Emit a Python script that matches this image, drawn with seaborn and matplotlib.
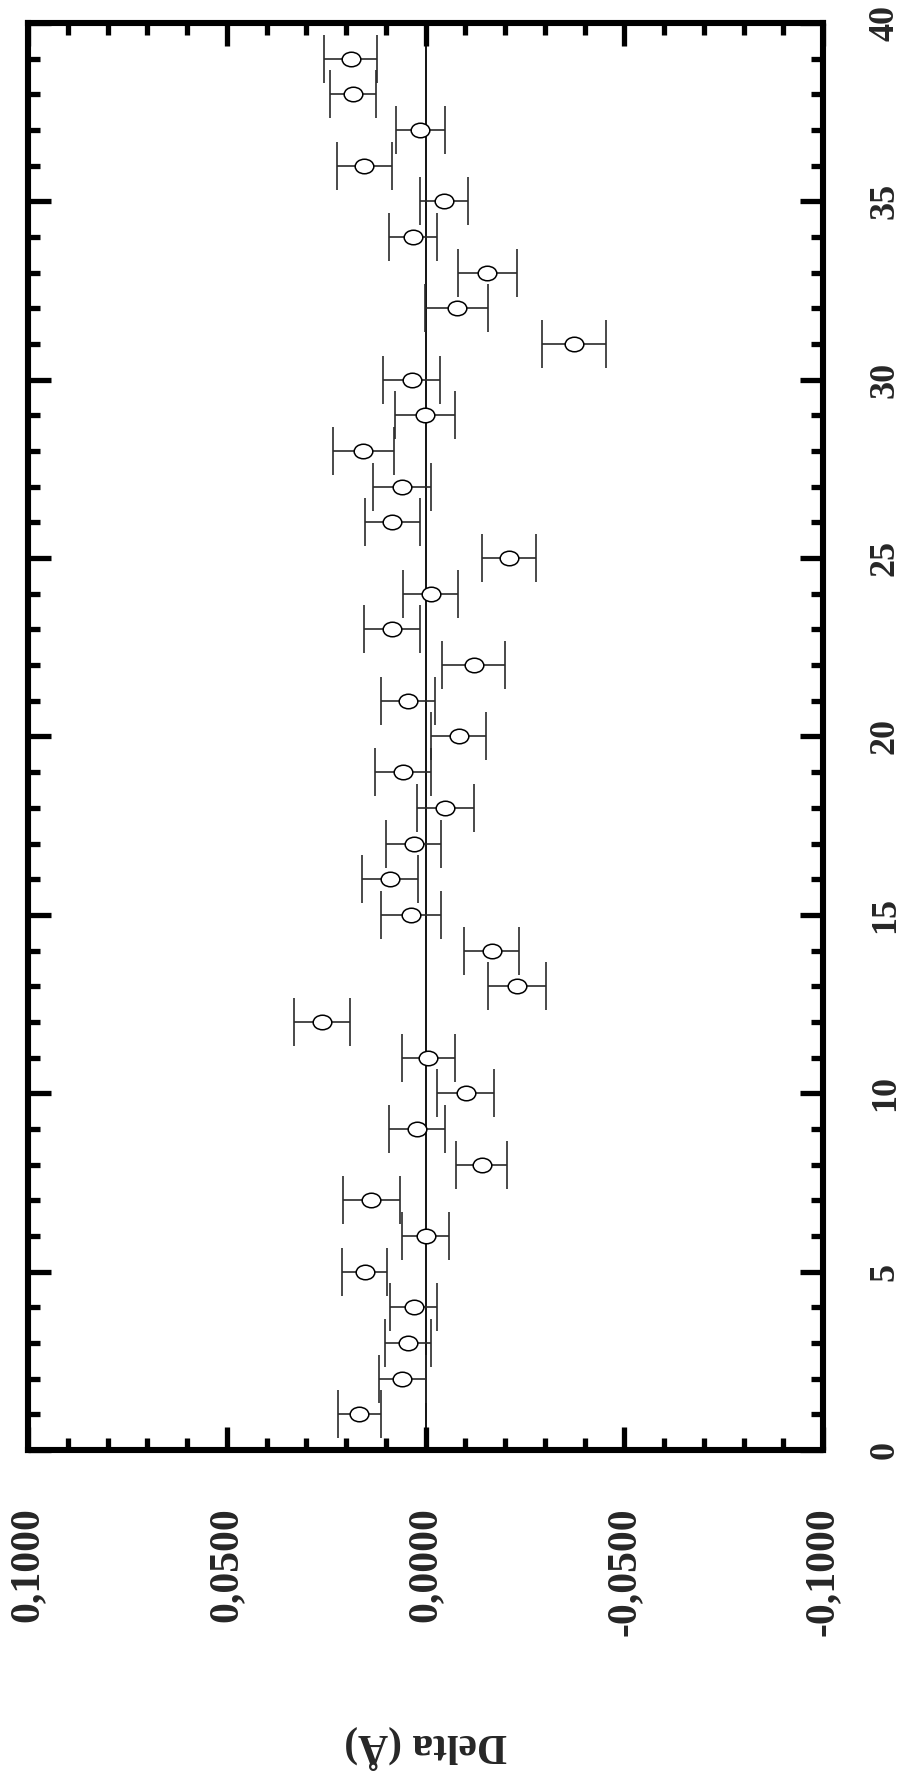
import numpy as np
import pandas as pd
import matplotlib
matplotlib.use("Agg")
import matplotlib.pyplot as plt
from matplotlib.path import Path
from matplotlib.transforms import Affine2D
from matplotlib.ticker import MultipleLocator, FixedLocator, FixedFormatter
import seaborn as sns

# Residuals of the refined distances, one per entry
entry = list(range(1, 40))
delta = [0.0167, 0.0059, 0.0044, 0.0030, 0.0153, 0.0000, 0.0136, -0.0141,
         0.0021, -0.0101, -0.0007, 0.0261, -0.0230, -0.0167, 0.0036, 0.0090,
         0.0030, -0.0050, 0.0056, -0.0084, 0.0044, -0.0121, 0.0084, -0.0013,
         -0.0210, 0.0084, 0.0059, 0.0156, 0.0001, 0.0035, -0.0373, -0.0078,
         -0.0155, 0.0032, -0.0047, 0.0154, 0.0013, 0.0183, 0.0188]
delta_err = [0.0054, 0.0059, 0.0057, 0.0059, 0.0056, 0.0060, 0.0071, 0.0064,
             0.0071, 0.0071, 0.0066, 0.0071, 0.0073, 0.0069, 0.0076, 0.0071,
             0.0069, 0.0071, 0.0071, 0.0069, 0.0069, 0.0080, 0.0071, 0.0069,
             0.0069, 0.0069, 0.0073, 0.0077, 0.0076, 0.0072, 0.0080, 0.0079,
             0.0074, 0.0060, 0.0060, 0.0069, 0.0062, 0.0058, 0.0067]

delta_ticks = [0.1, 0.05, 0.0, -0.05, -0.1]
delta_tick_labels = ["0,1000", "0,0500", "0,0000", "-0,0500", "-0,1000"]
entry_ticks = [0, 5, 10, 15, 20, 25, 30, 35, 40]
entry_tick_labels = ["0", "5", "10", "15", "20", "25", "30", "35", "40"]
axis_label = "Delta (Å)"

df = pd.DataFrame({"entry": entry, "delta": delta, "err": delta_err})

sns.set_theme(style="white")
plt.rcParams["font.family"] = ["Liberation Serif", "DejaVu Serif"]
plt.rcParams["font.weight"] = "bold"

fig = plt.figure(figsize=(8.99, 17.82), dpi=100)
ax = fig.add_axes([28 / 899, 1 - 1450 / 1782, 795 / 899, 1427 / 1782])

# reference line at zero deviation
ax.axvline(0.0, color="black", lw=1.3, zorder=1)

ax.errorbar(df["delta"], df["entry"], xerr=df["err"], fmt="none",
            ecolor="#2a2a2a", elinewidth=1.2, capsize=17, capthick=1.2,
            zorder=2)

# open, slightly flattened circle markers
ellipse = Path(Affine2D().scale(1.0, 0.78).transform(Path.unit_circle().vertices),
               Path.unit_circle().codes)
sns.scatterplot(data=df, x="delta", y="entry", ax=ax, marker=ellipse, s=180,
                facecolor="white", edgecolor="black", linewidth=1.1,
                zorder=3, legend=False)

ax.set_xlim(0.1, -0.1)
ax.set_ylim(0, 40)

for side in ["left", "right", "top", "bottom"]:
    ax.spines[side].set_visible(True)
    ax.spines[side].set_linewidth(4.4)
    ax.spines[side].set_color("black")

ax.xaxis.set_major_locator(FixedLocator(delta_ticks))
ax.xaxis.set_major_formatter(FixedFormatter(delta_tick_labels))
ax.xaxis.set_minor_locator(MultipleLocator(0.01))
ax.yaxis.set_major_locator(FixedLocator(entry_ticks))
ax.yaxis.set_major_formatter(FixedFormatter(entry_tick_labels))
ax.yaxis.set_minor_locator(MultipleLocator(1))

ax.tick_params(axis="both", which="both", direction="in", color="black",
               top=True, bottom=True, left=True, right=True)
ax.tick_params(axis="both", which="major", length=16.5, width=3.8)
ax.tick_params(axis="both", which="minor", length=8.6, width=3.8)
ax.tick_params(axis="x", which="major", labelbottom=True, labeltop=False,
               labelsize=30, pad=41, labelrotation=90)
ax.tick_params(axis="y", which="major", labelleft=False, labelright=True,
               labelsize=26, pad=33, labelrotation=90)

for lab in ax.get_xticklabels():
    lab.set_fontweight("bold")
    lab.set_verticalalignment("top")
    lab.set_horizontalalignment("center")
for lab in ax.get_yticklabels():
    lab.set_fontweight("bold")
    lab.set_verticalalignment("center")
    lab.set_horizontalalignment("left")

ax.set_xlabel(axis_label, fontsize=30, fontweight="bold", rotation=180,
              labelpad=64)
ax.set_ylabel("")

fig.savefig("out.png", dpi=100)
